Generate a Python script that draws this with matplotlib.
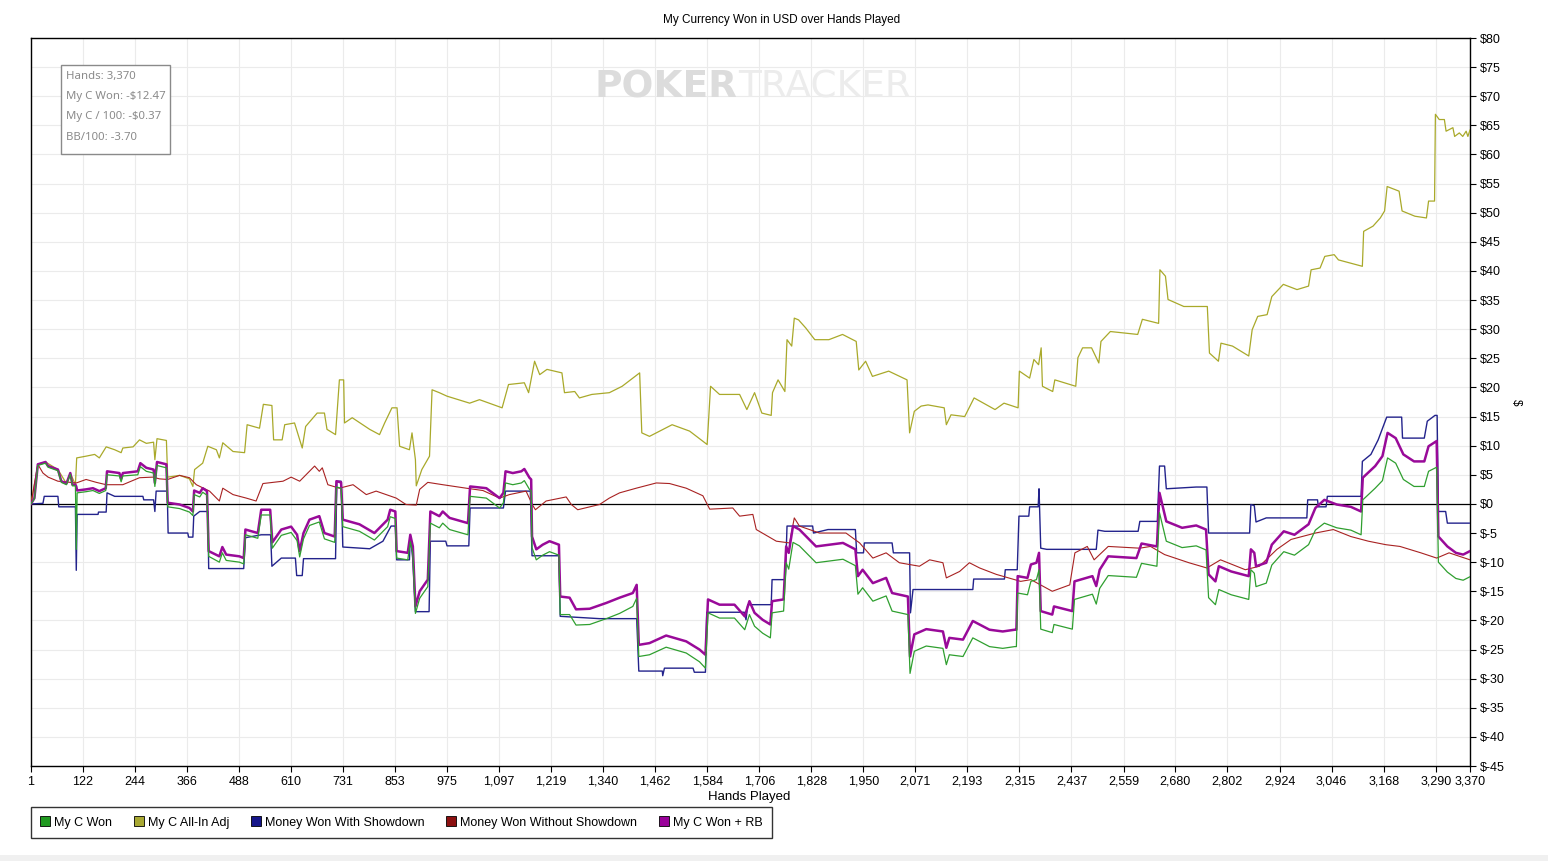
import matplotlib
matplotlib.use("Agg")
import matplotlib.pyplot as plt
from matplotlib.lines import Line2D
from matplotlib.patches import Rectangle

# hands where the "My C Won" / "My C Won + RB" curves change direction
won_hands = [1, 9, 17, 35, 41, 64, 72, 84, 93, 98, 105, 107, 109, 130, 146, 161, 176, 179, 208, 212,
             216, 251, 257, 271, 288, 291, 296, 318, 321, 349, 372, 380, 383, 396, 403, 413, 417, 442, 449, 458,
             489, 499, 503, 532, 540, 561, 566, 587, 610, 624, 630, 639, 653, 676, 688, 712, 716, 727, 731, 770,
             805, 817, 836, 842, 854, 857, 883, 889, 895, 901, 911, 930, 936, 957, 965, 981, 1024, 1029, 1067, 1098,
             1107, 1112, 1129, 1149, 1156, 1168, 1172, 1174, 1184, 1199, 1215, 1237, 1240, 1262, 1277, 1309, 1348, 1379, 1410, 1419,
             1424, 1449, 1488, 1535, 1566, 1580, 1586, 1613, 1648, 1672, 1683, 1695, 1714, 1732, 1736, 1763, 1769, 1775, 1785, 1800,
             1816, 1839, 1870, 1902, 1931, 1937, 1948, 1972, 2003, 2017, 2054, 2059, 2069, 2097, 2136, 2144, 2151, 2183, 2206, 2245,
             2276, 2304, 2308, 2311, 2334, 2342, 2355, 2361, 2365, 2392, 2396, 2439, 2444, 2486, 2495, 2503, 2523, 2589, 2601, 2637,
             2643, 2659, 2696, 2729, 2752, 2758, 2774, 2782, 2811, 2852, 2857, 2865, 2869, 2893, 2906, 2934, 2959, 2992, 3008, 3029,
             3058, 3091, 3115, 3119, 3148, 3165, 3177, 3196, 3214, 3239, 3263, 3273, 3292, 3296, 3317, 3337, 3354, 3370]

won_rb = [0, 1.0, 6.8, 7.2, 6.5, 5.9, 3.9, 3.5, 5.3, 3.3, 3.3, 3.0, 2.3, 2.5, 2.7, 2.2, 2.7, 5.6, 5.3, 4.3,
          5.3, 5.6, 7.0, 6.2, 5.9, 3.6, 7.2, 6.8, 0.2, -0.1, -0.7, -1.3, 2.3, 1.9, 2.7, 2.2, -8.1, -9.0, -7.4, -8.7,
          -9.0, -9.3, -4.4, -5.0, -1.0, -1.0, -6.6, -4.4, -3.9, -5.3, -8.1, -5.0, -2.7, -2.1, -5.0, -5.6, 3.9, 3.7, -2.7, -3.5,
          -5.0, -4.1, -2.7, -1.0, -1.3, -8.1, -8.4, -5.3, -7.3, -17.6, -15.0, -13.0, -1.3, -2.1, -1.3, -2.4, -3.3, 3.0, 2.7, 1.0,
          1.9, 5.6, 5.3, 5.6, 6.0, 4.5, 4.2, -5.6, -7.8, -7.0, -6.4, -7.0, -15.9, -16.1, -18.1, -18.0, -17.0, -16.1, -15.3, -13.9,
          -24.2, -23.9, -22.6, -23.6, -25.0, -25.9, -16.4, -17.3, -17.3, -19.3, -16.7, -18.7, -19.9, -20.7, -16.7, -16.4, -7.3, -8.4, -3.8, -4.4,
          -5.6, -7.3, -7.0, -6.7, -7.8, -12.4, -11.3, -13.6, -12.7, -15.3, -15.9, -26.2, -22.4, -21.5, -21.9, -24.7, -23.0, -23.3, -20.1, -21.6,
          -21.9, -21.6, -21.6, -12.4, -12.7, -10.4, -10.1, -8.4, -18.4, -19.0, -17.6, -18.4, -13.3, -12.4, -14.1, -11.3, -9.0, -9.3, -6.8, -7.3,
          1.9, -3.0, -4.1, -3.7, -4.4, -12.1, -13.3, -10.7, -11.6, -12.4, -7.8, -8.4, -10.7, -10.1, -7.0, -4.7, -5.3, -3.5, -0.7, 0.7,
          -0.1, -0.5, -1.3, 4.5, 6.5, 8.2, 12.2, 11.3, 8.5, 7.3, 7.3, 9.9, 10.8, -5.6, -7.3, -8.4, -8.7, -8.1]

won = [0, 0.9, 6.6, 7.0, 6.3, 5.7, 3.7, 3.3, 5.1, 3.1, 3.1, -7.8, 1.9, 2.1, 2.3, 1.8, 2.3, 5.0, 4.8, 3.8,
       4.8, 5.0, 6.4, 5.6, 5.3, 3.0, 6.6, 6.2, -0.5, -0.8, -1.4, -2.0, 1.6, 1.2, 2.0, 1.5, -9.0, -10.0, -8.4, -9.7,
       -10.0, -10.3, -5.3, -5.9, -1.9, -1.9, -7.6, -5.4, -4.9, -6.3, -9.1, -6.0, -3.7, -3.1, -6.0, -6.6, 2.9, 2.7, -3.9, -4.7,
       -6.2, -5.3, -3.9, -2.2, -2.5, -9.3, -9.6, -6.5, -8.5, -18.8, -16.2, -14.2, -3.3, -4.1, -3.3, -4.4, -5.3, 1.3, 1.0, -0.7,
       0.2, 3.6, 3.3, 3.6, 4.0, 2.5, 2.2, -7.5, -9.6, -8.8, -8.2, -8.8, -19.0, -19.0, -20.8, -20.7, -19.7, -18.8, -17.6, -16.2,
       -26.2, -25.9, -24.6, -25.6, -27.1, -28.2, -18.7, -19.6, -19.6, -21.6, -19.0, -21.0, -22.2, -23.0, -18.7, -18.4, -10.1, -11.2, -6.6, -7.2,
       -8.4, -10.1, -9.8, -9.5, -10.6, -15.5, -14.4, -16.7, -15.8, -18.4, -19.0, -29.1, -25.3, -24.4, -24.8, -27.6, -25.9, -26.2, -23.0, -24.5,
       -24.8, -24.5, -24.5, -15.3, -15.6, -13.3, -13.0, -11.3, -21.5, -22.1, -20.7, -21.5, -16.4, -15.5, -17.2, -14.5, -12.3, -12.6, -10.2, -10.7,
       -1.5, -6.4, -7.5, -7.2, -7.9, -16.1, -17.3, -14.7, -15.6, -16.4, -11.3, -11.9, -14.2, -13.6, -10.5, -8.2, -8.8, -7.0, -4.5, -3.3,
       -4.1, -4.5, -5.3, 0.7, 2.7, 4.0, 7.9, 7.0, 4.2, 3.0, 3.0, 5.6, 6.3, -10.0, -11.7, -12.8, -13.1, -12.5]

sd_hands = [1, 29, 32, 64, 66, 105, 107, 109, 158, 159, 177, 179, 197, 263, 265, 288, 291, 294, 320, 322,
            368, 370, 380, 382, 396, 415, 417, 499, 503, 540, 562, 565, 587, 620, 623, 636, 639, 714, 717, 727,
            731, 794, 825, 844, 854, 857, 887, 889, 895, 901, 933, 936, 972, 975, 1026, 1029, 1107, 1112, 1170, 1174,
            1237, 1240, 1332, 1419, 1424, 1479, 1480, 1484, 1551, 1554, 1580, 1583, 1671, 1675, 1679, 1734, 1736, 1767, 1771, 1831,
            1833, 1867, 1931, 1934, 1950, 1952, 2017, 2020, 2058, 2060, 2066, 2206, 2208, 2280, 2282, 2310, 2314, 2337, 2339, 2359,
            2361, 2365, 2379, 2495, 2499, 2515, 2593, 2597, 2638, 2643, 2655, 2659, 2729, 2754, 2758, 2854, 2857, 2865, 2869, 2893,
            2988, 2990, 3013, 3015, 3033, 3036, 3115, 3118, 3138, 3155, 3175, 3210, 3212, 3263, 3270, 3288, 3293, 3296, 3313, 3317,
            3370]

sd_won = [0, 0.1, 1.3, 1.3, -0.5, -0.5, -11.4, -1.8, -1.8, -1.4, -1.4, 1.9, 1.3, 1.3, 0.7, 0.7, -1.3, 2.2, 2.2, -5.0,
          -5.0, -5.7, -5.7, -2.1, -1.3, -1.3, -11.1, -11.1, -5.8, -5.3, -5.3, -10.7, -9.3, -9.3, -12.3, -12.3, -9.4, -9.4, 3.9, 3.9,
          -7.4, -7.7, -6.4, -3.8, -3.8, -9.6, -9.6, -5.3, -9.6, -18.5, -18.5, -6.4, -6.4, -7.2, -7.2, -0.7, -0.7, 2.2, 2.2, -8.9,
          -8.9, -19.3, -19.7, -19.7, -28.7, -28.7, -29.5, -28.2, -28.2, -28.9, -28.9, -18.6, -18.6, -19.9, -17.3, -17.3, -13.0, -13.0, -3.8, -3.8,
          -5.0, -4.4, -4.4, -8.4, -8.4, -6.7, -6.7, -8.4, -8.4, -18.7, -14.7, -14.7, -12.9, -12.9, -11.3, -11.3, -2.1, -2.1, -0.5, -0.5,
          2.6, -7.6, -7.8, -7.8, -4.5, -4.7, -4.7, -3.0, -3.0, 6.5, 6.5, 2.6, 2.9, 2.9, -5.0, -5.0, -0.1, -0.3, -3.1, -2.4,
          -2.4, 0.7, 0.7, -0.5, -0.5, 1.3, 1.3, 7.3, 8.5, 11.0, 14.9, 14.9, 11.3, 11.3, 14.2, 15.2, 15.2, -1.3, -1.3, -3.3,
          -3.3]

nsd_hands = [1, 17, 29, 41, 64, 107, 130, 154, 177, 216, 255, 286, 302, 321, 349, 372, 388, 419, 442, 450,
             474, 505, 528, 544, 591, 610, 630, 665, 676, 683, 696, 723, 755, 786, 809, 856, 879, 903, 911, 930,
             965, 1020, 1059, 1098, 1121, 1160, 1176, 1182, 1207, 1254, 1266, 1281, 1332, 1355, 1379, 1418, 1465, 1496, 1535, 1574,
             1590, 1644, 1660, 1691, 1699, 1746, 1777, 1788, 1800, 1847, 1909, 1941, 1972, 2003, 2034, 2081, 2105, 2136, 2144, 2175,
             2198, 2222, 2261, 2318, 2342, 2392, 2433, 2445, 2474, 2490, 2523, 2597, 2622, 2655, 2712, 2754, 2786, 2844, 2877, 2918,
             2951, 3008, 3050, 3091, 3132, 3173, 3206, 3255, 3292, 3321, 3370]

nsd_won = [0, 6.8, 5.3, 4.6, 3.9, 3.6, 4.2, 3.7, 3.3, 3.3, 4.5, 4.6, 4.3, 4.2, 4.9, 4.5, 3.3, 2.2, 0.5, 2.7,
           1.6, 1.0, 0.5, 3.5, 3.9, 4.6, 3.9, 6.5, 5.6, 6.2, 3.3, 2.7, 3.3, 1.6, 2.2, 1.0, -0.1, -0.2, 2.5, 3.7,
           3.3, 2.7, 2.3, 1.0, 1.6, 2.2, -0.3, -1.0, 0.5, 1.2, -0.1, -1.0, -0.1, 1.0, 1.9, 2.7, 3.6, 3.5, 2.7, 1.4,
           -0.9, -0.7, -2.1, -1.8, -4.4, -6.4, -6.7, -2.4, -3.8, -5.0, -5.0, -6.7, -9.3, -8.4, -10.1, -10.7, -9.6, -10.1, -12.7, -11.6,
           -10.1, -11.0, -12.1, -13.3, -13.0, -15.0, -13.9, -8.4, -7.3, -9.6, -7.3, -7.6, -7.3, -8.7, -10.1, -11.0, -9.6, -11.3, -10.7, -7.8,
           -6.1, -5.0, -4.4, -5.6, -6.4, -7.0, -7.3, -8.4, -9.3, -8.4, -9.6]

allin_hands = [1, 17, 35, 64, 84, 93, 105, 108, 130, 150, 161, 177, 197, 212, 216, 240, 255, 271, 288, 291,
               296, 318, 321, 349, 372, 380, 384, 403, 415, 435, 442, 450, 474, 501, 507, 536, 545, 565, 569, 589,
               595, 618, 636, 644, 671, 688, 694, 714, 723, 733, 735, 753, 794, 817, 829, 846, 858, 864, 887, 893,
               901, 903, 916, 934, 940, 957, 975, 1028, 1051, 1104, 1119, 1156, 1166, 1180, 1192, 1209, 1244, 1250, 1274, 1285,
               1314, 1355, 1385, 1426, 1431, 1449, 1502, 1543, 1584, 1592, 1613, 1660, 1677, 1695, 1712, 1734, 1737, 1750, 1766, 1771,
               1782, 1788, 1798, 1815, 1836, 1869, 1901, 1933, 1939, 1955, 1971, 2009, 2052, 2058, 2069, 2085, 2101, 2139, 2144, 2155,
               2187, 2209, 2258, 2279, 2312, 2315, 2339, 2349, 2360, 2366, 2369, 2393, 2398, 2447, 2452, 2463, 2484, 2501, 2506, 2528,
               2592, 2603, 2641, 2644, 2657, 2663, 2700, 2755, 2760, 2781, 2787, 2814, 2852, 2860, 2873, 2895, 2906, 2933, 2965, 2992,
               2998, 3019, 3030, 3052, 3062, 3118, 3121, 3143, 3160, 3170, 3176, 3204, 3211, 3241, 3268, 3273, 3287, 3289, 3298, 3310,
               3314, 3330, 3334, 3345, 3353, 3361, 3365, 3370]

allin_adj = [0, 6.8, 7.2, 5.9, 3.5, 5.3, 3.3, 7.9, 8.2, 8.5, 7.9, 9.8, 9.3, 8.8, 9.6, 9.8, 11.0, 10.4, 10.6, 7.6,
             11.2, 10.9, 4.6, 4.9, 4.3, 3.0, 5.9, 7.0, 9.9, 9.3, 7.9, 10.5, 9.0, 8.8, 13.6, 13.0, 17.1, 16.9, 11.0, 11.0,
             13.6, 13.9, 9.6, 13.3, 15.6, 15.6, 12.8, 11.9, 21.3, 21.3, 13.9, 14.8, 12.8, 11.9, 13.9, 16.5, 16.5, 9.9, 9.3, 12.2,
             7.6, 3.1, 5.9, 8.2, 19.6, 19.1, 18.5, 17.3, 17.9, 16.5, 20.5, 20.8, 19.1, 24.5, 22.2, 23.1, 22.5, 19.1, 19.3, 18.2,
             18.8, 19.1, 20.2, 22.5, 12.2, 11.6, 13.6, 12.5, 10.2, 20.2, 18.8, 18.8, 16.2, 19.1, 15.6, 15.2, 19.1, 21.3, 19.3, 28.2,
             27.1, 31.9, 31.6, 30.2, 28.2, 28.2, 29.1, 27.9, 23.0, 24.5, 21.9, 22.8, 21.3, 12.2, 15.9, 16.8, 17.0, 16.5, 13.6, 15.3,
             15.0, 18.2, 16.2, 17.3, 16.5, 22.8, 21.6, 24.8, 23.9, 26.8, 20.2, 19.3, 21.3, 20.2, 25.1, 26.8, 26.8, 24.2, 27.9, 29.6,
             29.1, 31.7, 31.0, 40.2, 39.1, 35.1, 33.9, 33.9, 25.9, 24.5, 27.6, 27.1, 25.4, 29.9, 32.2, 32.5, 35.6, 37.7, 36.8, 37.4,
             40.2, 40.5, 42.5, 42.8, 41.9, 40.8, 46.8, 47.7, 49.1, 50.3, 54.5, 53.7, 50.3, 49.4, 49.1, 52.0, 52.0, 66.9, 66.0, 66.0,
             64.0, 64.6, 63.1, 63.7, 63.1, 64.0, 63.1, 64.2]

x_ticks = [1, 122, 244, 366, 488, 610, 731, 853, 975, 1097, 1219, 1340, 1462, 1584, 1706, 1828, 1950,
           2071, 2193, 2315, 2437, 2559, 2680, 2802, 2924, 3046, 3168, 3290, 3370]
y_ticks = list(range(-45, 81, 5))

info_lines = ["Hands: 3,370", "My C Won: -$12.47", "My C / 100: -$0.37", "BB/100: -3.70"]

series_names = ["My C Won", "My C All-In Adj", "Money Won With Showdown", "Money Won Without Showdown", "My C Won + RB"]
line_colors = ["#2f9f2f", "#a9a92a", "#23238c", "#a82222", "#990a99"]
box_colors = ["#1f991f", "#a8a832", "#16168a", "#8c1010", "#990099"]

W, H = 1548, 861
sans = ["Liberation Sans", "DejaVu Sans"]

fig = plt.figure(figsize=(W / 100, H / 100), dpi=100)
fig.patch.set_facecolor("white")
ax = fig.add_axes([31 / W, 1 - 766 / H, (1470 - 31) / W, (766 - 38) / H])

ax.plot(allin_hands, allin_adj, color=line_colors[1], lw=0.9, zorder=3)
ax.plot(sd_hands, sd_won, color=line_colors[2], lw=1.0, zorder=4)
ax.plot(nsd_hands, nsd_won, color=line_colors[3], lw=0.8, zorder=5)
ax.plot(won_hands, won_rb, color=line_colors[4], lw=1.8, zorder=6)
ax.plot(won_hands, won, color=line_colors[0], lw=0.9, zorder=7)
ax.axhline(0, color="black", lw=0.9, zorder=2)

ax.set_xlim(1, 3370)
ax.set_ylim(-45, 80)
ax.set_xticks(x_ticks)
ax.set_xticklabels([f"{t:,}" for t in x_ticks], family=sans, fontsize=9)
ax.set_yticks(y_ticks)
ax.set_yticklabels([f"${t}" for t in y_ticks], family=sans, fontsize=9)
ax.yaxis.tick_right()
ax.tick_params(axis="both", direction="out", length=4, width=0.8, pad=3, colors="black")
ax.grid(True, color="#ebebeb", lw=0.8)
ax.set_axisbelow(True)
for s in ax.spines.values():
    s.set_linewidth(1.0)

fig.text(782 / W, 1 - 20 / H, "My Currency Won in USD over Hands Played", ha="center", va="center",
         family="Liberation Sans", fontsize=8.5)
fig.text(749 / W, 1 - 797 / H, "Hands Played", ha="center", va="center", family=sans, fontsize=9.5)
fig.text(1516 / W, 1 - 402 / H, "$", ha="center", va="center", rotation=270, family=sans, fontsize=8.5)

# watermark
fig.text(738 / W, 1 - 88 / H, "POKER", ha="right", va="center", fontsize=27, fontweight="bold",
         color="#dcdcdc", family="DejaVu Sans")
fig.text(738 / W, 1 - 88 / H, "TRACKER", ha="left", va="center", fontsize=27,
         color="#ececec", family="DejaVu Sans")

# info box
fig.patches.append(Rectangle((61 / W, 1 - 154 / H), 109 / W, 89 / H, transform=fig.transFigure,
                             facecolor="white", edgecolor="#8a8a8a", lw=1.0, zorder=10))
for i, line in enumerate(info_lines):
    fig.text(66 / W, 1 - (77 + 20 * i) / H, line, ha="left", va="center", family="Noto Sans",
             fontsize=8.2, color="#8a8a8a", zorder=11)

# legend
handles = [Line2D([], [], ls="none", marker="s", markersize=6.5, markerfacecolor=c,
                  markeredgecolor="black", markeredgewidth=0.6) for c in box_colors]
leg = fig.legend(handles, series_names, loc="lower left", bbox_to_anchor=(31 / W, 1 - 838 / H),
                 borderaxespad=0, ncol=5, frameon=True, fancybox=False, edgecolor="black",
                 handlelength=0.8, handletextpad=0.3, columnspacing=1.75, borderpad=0.75,
                 prop={"family": sans, "size": 9})
leg.get_frame().set_linewidth(1.0)

fig.patches.append(Rectangle((0, 0), 1, 6 / H, transform=fig.transFigure, facecolor="#f0f0f0",
                             edgecolor="none"))

fig.savefig("out.png", dpi=100)
